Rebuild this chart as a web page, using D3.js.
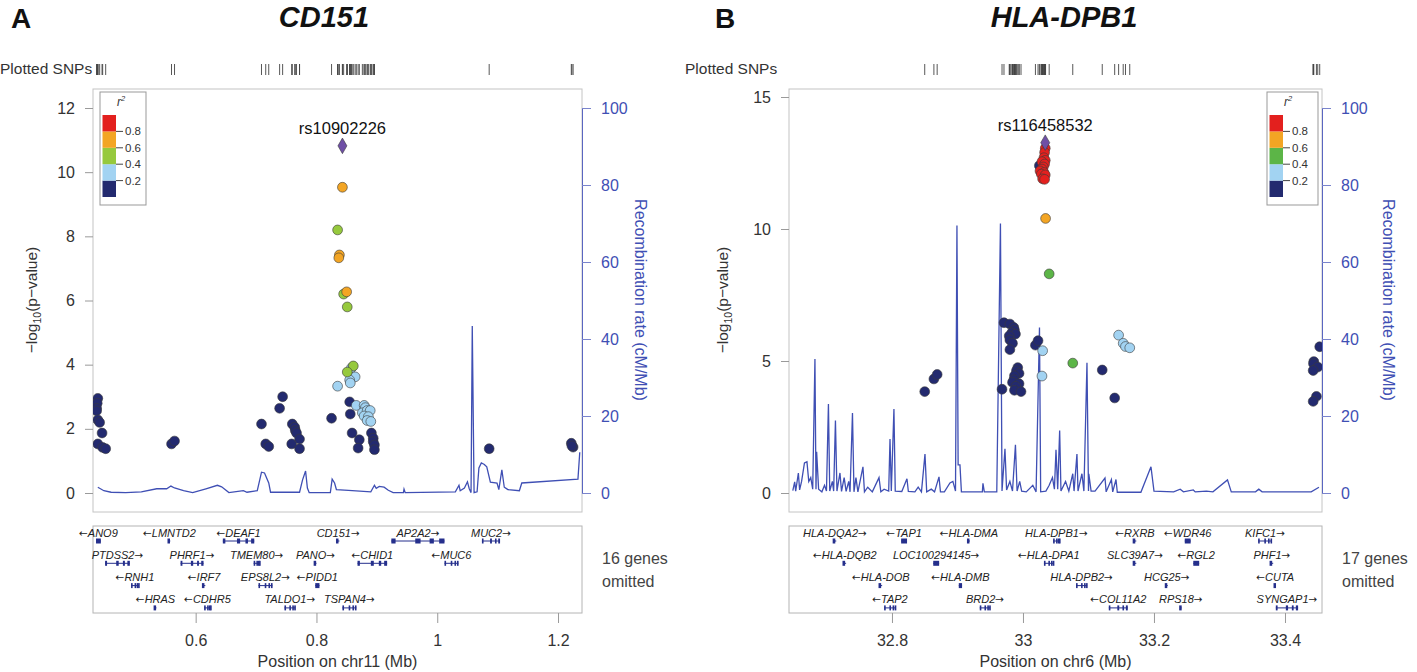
<!DOCTYPE html>
<html>
<head>
<meta charset="utf-8">
<script src="https://cdn.jsdelivr.net/npm/d3@7"></script>
<style>
  body { margin: 0; background: #fff; }
  text { font-family: "Liberation Sans", Arial, Helvetica, sans-serif; }
</style>
</head>
<body>
<svg id="chart" width="1417" height="672"></svg>
<script>
// ---- data ----
const r2Breaks = [0.2, 0.4, 0.6, 0.8];
const r2ColorsA = ["#232a6f", "#a2d3f2", "#96c93d", "#f3a524", "#e3201e"];
const r2ColorsB = ["#232a6f", "#a2d3f2", "#5cb547", "#f3a524", "#e3201e"];

const yTicksA = [0, 2, 4, 6, 8, 10, 12];
const yTicksB = [0, 5, 10, 15];
const recTicks = [0, 20, 40, 60, 80, 100];
const xTicksA = [0.6, 0.8, 1, 1.2];
const xTicksB = [32.8, 33, 33.2, 33.4];

// [position Mb, -log10 p, r2]
const leadA = [0.843, 10.82, "rs10902226"];
const snpsA = [
  [0.843, 9.53, 0.7], [0.835, 8.2, 0.5], [0.838, 7.42, 0.7], [0.837, 7.33, 0.7],
  [0.845, 6.2, 0.5], [0.850, 6.27, 0.7], [0.851, 5.8, 0.5],
  [0.858, 3.9, 0.3], [0.861, 3.96, 0.5], [0.851, 3.77, 0.5], [0.864, 3.62, 0.3],
  [0.855, 3.52, 0.3], [0.856, 3.43, 0.3], [0.835, 3.33, 0.3],
  [0.855, 2.84, 0.1], [0.856, 2.46, 0.1], [0.859, 1.87, 0.1], [0.871, 1.66, 0.1], [0.869, 1.40, 0.1],
  [0.866, 2.73, 0.3], [0.879, 2.73, 0.3], [0.881, 2.66, 0.3], [0.876, 2.50, 0.3], [0.884, 2.57, 0.3],
  [0.889, 2.57, 0.3], [0.879, 2.40, 0.3], [0.886, 2.38, 0.3], [0.884, 2.26, 0.3], [0.890, 2.23, 0.3],
  [0.891, 1.87, 0.1], [0.894, 1.71, 0.1], [0.894, 1.60, 0.1], [0.896, 1.50, 0.1], [0.896, 1.35, 0.1],
  [0.825, 2.33, 0.1], [0.744, 3.00, 0.1], [0.739, 2.64, 0.1], [0.709, 2.15, 0.1], [0.716, 1.53, 0.1],
  [0.721, 1.45, 0.1], [0.760, 2.15, 0.1], [0.764, 2.05, 0.1], [0.765, 1.95, 0.1], [0.767, 1.87, 0.1],
  [0.759, 1.53, 0.1], [0.772, 1.68, 0.1], [0.772, 1.38, 0.1], [0.560, 1.53, 0.1], [0.565, 1.62, 0.1],
  [0.438, 2.95, 0.1], [0.437, 2.80, 0.1], [0.436, 2.64, 0.1], [0.436, 2.56, 0.1], [0.438, 2.28, 0.1],
  [0.441, 2.20, 0.1], [0.445, 1.87, 0.1], [0.438, 1.53, 0.1], [0.446, 1.42, 0.1], [0.451, 1.38, 0.1],
  [1.086, 1.38, 0.1], [1.222, 1.55, 0.1], [1.225, 1.43, 0.1], [1.223, 1.47, 0.1]
];

const leadB = [33.034, 13.27, "rs116458532"];
const snpsB = [
  [33.025, 12.4, 0.1],
  [33.034, 13.06, 0.9], [33.033, 12.9, 0.9], [33.032, 12.7, 0.9], [33.034, 12.6, 0.9],
  [33.029, 12.55, 0.9], [33.033, 12.46, 0.9], [33.031, 12.35, 0.9], [33.029, 12.27, 0.9],
  [33.026, 12.2, 0.9], [33.032, 12.14, 0.9], [33.028, 12.08, 0.9], [33.034, 12.05, 0.9],
  [33.030, 11.9, 0.9], [33.033, 11.88, 0.9],
  [33.0345, 10.4, 0.7], [33.040, 8.3, 0.5],
  [32.971, 6.45, 0.1], [32.980, 6.40, 0.1], [32.986, 6.27, 0.1], [32.987, 6.17, 0.1], [32.983, 6.07, 0.1],
  [32.9885, 6.02, 0.1], [32.979, 5.95, 0.1], [32.980, 5.80, 0.1], [32.984, 5.67, 0.1], [32.980, 5.43, 0.1],
  [32.968, 3.93, 0.1], [32.992, 4.75, 0.1], [32.990, 4.63, 0.1], [32.994, 4.53, 0.1], [32.987, 4.44, 0.1],
  [32.986, 4.29, 0.1], [32.984, 4.19, 0.1], [32.994, 4.14, 0.1], [32.989, 4.04, 0.1], [32.987, 3.89, 0.1],
  [32.997, 3.84, 0.1], [33.019, 5.60, 0.1], [33.023, 5.77, 0.1],
  [33.030, 5.39, 0.3], [33.029, 4.43, 0.3], [33.076, 4.92, 0.5],
  [33.121, 4.66, 0.1], [33.140, 3.60, 0.1],
  [33.146, 5.98, 0.3], [33.153, 5.67, 0.3], [33.1565, 5.55, 0.3], [33.163, 5.50, 0.3],
  [32.850, 3.84, 0.1], [32.864, 4.32, 0.1], [32.869, 4.49, 0.1],
  [33.453, 5.54, 0.1], [33.444, 4.98, 0.1], [33.4435, 4.90, 0.1], [33.450, 4.77, 0.1],
  [33.443, 4.64, 0.1], [33.448, 3.66, 0.1], [33.443, 3.47, 0.1]
];

// [position Mb, recombination rate cM/Mb]
const recombA = [
  [0.438, 1.5], [0.448, 0.6], [0.460, 0.2], [0.484, 0.1], [0.510, 0.3], [0.5355, 1.1], [0.552, 1.1],
  [0.559, 1.8], [0.565, 1.3], [0.580, 0.6], [0.595, 0.1], [0.617, 1.1], [0.636, 2.0], [0.643, 1.6],
  [0.655, 0.1], [0.679, 0.6], [0.685, 0.2], [0.702, 0.6], [0.709, 5.4], [0.714, 5.2], [0.721, 2.6],
  [0.724, 0.2], [0.772, 0.2], [0.777, 3.4], [0.782, 5.7], [0.785, 1.3], [0.788, 0.1], [0.823, 0.1],
  [0.826, 3.6], [0.830, 2.6], [0.833, 0.9], [0.853, 0.7], [0.890, 0.3], [0.896, 2.0], [0.899, 1.2],
  [0.904, 1.7], [0.912, 1.5], [0.919, 0.7], [0.927, 0.1], [0.944, 0.1], [0.945, 1.0], [0.947, 0.1],
  [1.030, 0.3], [1.036, 2.0], [1.038, 0.6], [1.045, 1.3], [1.050, 2.9], [1.053, 1.1], [1.056, 0.1],
  [1.058, 43.4], [1.061, 0.1], [1.066, 0.3], [1.069, 6.5], [1.073, 7.8], [1.078, 7.4], [1.082, 6.8],
  [1.088, 2.8], [1.099, 2.6], [1.102, 0.9], [1.107, 6.0], [1.111, 1.5], [1.114, 1.2], [1.117, 0.9],
  [1.136, 0.6], [1.140, 2.6], [1.233, 3.6], [1.236, 10.6]
];

const recombB = [
  [32.6486, 0.6], [32.6515, 2.9], [32.653, 0.5], [32.6571, 5.2], [32.659, 0.8], [32.662, 3.0],
  [32.6664, 7.8], [32.6702, 8.1], [32.673, 3.0], [32.676, 4.0], [32.679, 1.0], [32.6824, 34.8],
  [32.684, 1.0], [32.685, 10.7], [32.688, 1.0], [32.693, 0.3], [32.697, 2.0], [32.700, 0.5],
  [32.703, 23.1], [32.705, 0.5], [32.709, 3.0], [32.711, 0.5], [32.7137, 18.8], [32.716, 0.5],
  [32.7206, 5.2], [32.723, 0.4], [32.727, 4.0], [32.730, 0.4], [32.734, 3.0], [32.736, 0.3],
  [32.7397, 20.8], [32.742, 0.3], [32.745, 4.0], [32.748, 0.3], [32.7557, 6.8], [32.758, 0.3],
  [32.763, 1.5], [32.770, 0.3], [32.7802, 4.0], [32.783, 0.3], [32.788, 1.0], [32.795, 0.5],
  [32.797, 14.0], [32.799, 0.5], [32.803, 21.8], [32.805, 0.5], [32.815, 0.4], [32.8229, 3.7],
  [32.825, 0.4], [32.835, 0.3], [32.840, 1.5], [32.845, 0.3], [32.8504, 10.1], [32.853, 0.3],
  [32.860, 1.0], [32.865, 0.3], [32.8718, 4.2], [32.874, 0.3], [32.880, 0.3], [32.8885, 2.6],
  [32.893, 3.0], [32.897, 0.5], [32.8992, 69.5], [32.901, 7.3], [32.9038, 7.3], [32.906, 0.3],
  [32.938, 0.3], [32.9389, 2.5], [32.941, 0.3], [32.960, 0.3], [32.9656, 70.0], [32.968, 0.5],
  [32.9725, 11.5], [32.975, 0.8], [32.980, 3.0], [32.984, 0.5], [32.9885, 12.5], [32.991, 0.5],
  [32.995, 3.0], [32.998, 0.5], [33.005, 0.3], [33.015, 2.0], [33.020, 0.3], [33.0252, 43.0],
  [33.027, 0.3], [33.035, 0.5], [33.040, 2.0], [33.045, 4.0], [33.048, 1.0], [33.0504, 11.2],
  [33.053, 1.0], [33.056, 16.2], [33.058, 0.5], [33.065, 3.0], [33.070, 0.5], [33.076, 5.0],
  [33.078, 0.5], [33.0824, 10.1], [33.084, 0.5], [33.090, 5.0], [33.093, 0.5], [33.0977, 33.8],
  [33.100, 0.5], [33.1005, 5.0], [33.104, 0.5], [33.110, 0.5], [33.1252, 3.9], [33.127, 0.3],
  [33.135, 3.5], [33.137, 0.3], [33.142, 3.5], [33.144, 0.2], [33.180, 0.2], [33.1954, 6.8],
  [33.200, 0.5], [33.230, 0.3], [33.240, 1.0], [33.245, 0.3], [33.260, 0.8], [33.263, 0.3],
  [33.280, 0.5], [33.290, 0.3], [33.3122, 3.4], [33.318, 0.3], [33.355, 0.3], [33.360, 1.0],
  [33.365, 0.3], [33.440, 0.3], [33.4519, 1.5]
];

// [gene, start Mb, end Mb, row, strand]
const genesA = [
  ["ANO9", 0.435, 0.443, 0, "-"], ["LMNTD2", 0.555, 0.558, 0, "-"], ["DEAF1", 0.645, 0.697, 0, "-"],
  ["CD151", 0.834, 0.838, 0, "+"], ["AP2A2", 0.924, 1.012, 0, "+"], ["MUC2", 1.074, 1.104, 0, "+"],
  ["PTDSS2", 0.450, 0.491, 1, "+"], ["PHRF1", 0.575, 0.613, 1, "+"], ["TMEM80", 0.696, 0.706, 1, "+"],
  ["PANO", 0.797, 0.800, 1, "+"], ["CHID1", 0.868, 0.917, 1, "-"], ["MUC6", 1.012, 1.035, 1, "-"],
  ["RNH1", 0.493, 0.506, 2, "-"], ["IRF7", 0.612, 0.616, 2, "-"], ["EPS8L2", 0.704, 0.727, 2, "+"],
  ["PIDD1", 0.798, 0.805, 2, "-"],
  ["HRAS", 0.532, 0.535, 3, "-"], ["CDHR5", 0.614, 0.625, 3, "-"], ["TALDO1", 0.747, 0.765, 3, "+"],
  ["TSPAN4", 0.843, 0.866, 3, "+"]
];
const genesB = [
  ["HLA-DQA2", 32.711, 32.715, 0, "+"], ["TAP1", 32.814, 32.823, 0, "-"], ["HLA-DMA", 32.916, 32.919, 0, "-"],
  ["HLA-DPB1", 33.046, 33.056, 0, "+"], ["RXRB", 33.169, 33.173, 0, "-"], ["WDR46", 33.247, 33.256, 0, "-"],
  ["KIFC1", 33.359, 33.380, 0, "+"],
  ["HLA-DQB2", 32.726, 32.730, 1, "-"], ["LOC100294145", 32.863, 32.872, 1, "+"], ["HLA-DPA1", 33.032, 33.047, 1, "-"],
  ["SLC39A7", 33.169, 33.173, 1, "+"], ["RGL2", 33.260, 33.269, 1, "-"], ["PHF1", 33.378, 33.382, 1, "+"],
  ["HLA-DOB", 32.781, 32.785, 2, "-"], ["HLA-DMB", 32.902, 32.907, 2, "-"], ["HLA-DPB2", 33.081, 33.098, 2, "+"],
  ["HCG25", 33.218, 33.221, 2, "+"], ["CUTA", 33.384, 33.386, 2, "-"],
  ["TAP2", 32.788, 32.806, 3, "-"], ["BRD2", 32.934, 32.950, 3, "+"], ["COL11A2", 33.131, 33.160, 3, "-"],
  ["RPS18", 33.240, 33.242, 3, "+"], ["SYNGAP1", 33.386, 33.420, 3, "+"]
];

// ---- drawing ----
const svg = d3.select("#chart");
const BLUE = "#3f4fb4";
const GRAY = "#9a9a9a";
const TEXT = "#333";

function drawPanel(o) {
  const g = svg.append("g");
  const x = d3.scaleLinear().domain(o.xDomain).range([o.left, o.right]);
  const y = d3.scaleLinear().domain([0, o.yMax]).range([493, o.yTopPx]);
  const rec = d3.scaleLinear().domain([0, 100]).range([493, 108]);
  const plotTop = 89, plotBottom = 512, geneTop = 526, geneBottom = 613;

  // panel letter and title
  g.append("text").attr("x", o.letterX).attr("y", 28).text(o.letter)
    .style("font-size", "28px").style("font-weight", "bold").attr("fill", "#111");
  g.append("text").attr("x", o.titleX).attr("y", 27).attr("text-anchor", "middle").text(o.title)
    .style("font-size", "29px").style("font-weight", "bold").style("font-style", "italic").attr("fill", "#111");

  // plotted SNPs rug
  g.append("text").attr("x", o.rugLabelX).attr("y", 74).text("Plotted SNPs")
    .style("font-size", "15.5px").attr("fill", TEXT);
  g.append("g").selectAll("line").data(o.snps.concat([o.lead])).join("line")
    .attr("x1", d => x(d[0])).attr("x2", d => x(d[0]))
    .attr("y1", 64).attr("y2", 75).attr("stroke", "#444").attr("stroke-width", 0.9);

  // plot frame
  const clipId = "clip" + o.letter;
  g.append("clipPath").attr("id", clipId).append("rect")
    .attr("x", o.left).attr("y", plotTop).attr("width", o.right - o.left).attr("height", plotBottom - plotTop);
  g.append("rect").attr("x", o.left).attr("y", plotTop).attr("width", o.right - o.left)
    .attr("height", plotBottom - plotTop).attr("fill", "none").attr("stroke", "#c4c4c4");

  // left axis
  g.append("g").attr("transform", `translate(${o.left},0)`)
    .call(d3.axisLeft(y).tickValues(o.yTicks).tickSize(8).tickPadding(10).tickFormat(d => String(d)))
    .call(a => a.select(".domain").remove())
    .call(a => a.selectAll("line").attr("stroke", GRAY))
    .call(a => a.selectAll("text").attr("fill", TEXT).style("font-size", "16px"));

  // right axis (recombination)
  g.append("g").attr("transform", `translate(${o.right},0)`)
    .call(d3.axisRight(rec).tickValues(recTicks).tickSize(9).tickSizeOuter(0).tickPadding(10))
    .call(a => a.select(".domain").attr("stroke", "#5a66c0"))
    .call(a => a.selectAll("line").attr("stroke", "#7a84cc"))
    .call(a => a.selectAll("text").attr("fill", BLUE).style("font-size", "16px"));

  // axis titles
  const ylab = g.append("text").attr("transform", `translate(${o.yLabelX},300) rotate(-90)`)
    .attr("text-anchor", "middle").attr("fill", TEXT).style("font-size", "15.5px");
  ylab.append("tspan").text("\u2212log");
  ylab.append("tspan").text("10").style("font-size", "10.5px").attr("dy", 4);
  ylab.append("tspan").text("(p\u2212value)").attr("dy", -4);
  g.append("text").attr("transform", `translate(${o.recLabelX},300) rotate(90)`)
    .attr("text-anchor", "middle").attr("fill", BLUE).style("font-size", "16px")
    .text("Recombination rate (cM/Mb)");

  // recombination line
  g.append("path").datum(o.recomb).attr("clip-path", `url(#${clipId})`)
    .attr("d", d3.line().x(d => x(d[0])).y(d => rec(d[1])))
    .attr("fill", "none").attr("stroke", BLUE).attr("stroke-width", 1.3);

  // SNPs, low r2 first
  const colorOf = d => o.colors[d3.bisect(r2Breaks, d[2])];
  const ordered = o.snps.slice().sort((a, b) => a[2] - b[2]);
  g.append("g").attr("clip-path", `url(#${clipId})`).selectAll("circle").data(ordered).join("circle")
    .attr("cx", d => x(d[0])).attr("cy", d => y(d[1])).attr("r", 4.9)
    .attr("fill", colorOf).attr("stroke", "#3a3a3a").attr("stroke-width", 0.6);

  // lead SNP
  g.append("path").attr("d", d3.symbol(d3.symbolDiamond, 70)())
    .attr("transform", `translate(${x(o.lead[0])},${y(o.lead[1])})`)
    .attr("fill", "#6f4fa6").attr("stroke", "#3a3a3a").attr("stroke-width", 0.6);
  g.append("text").attr("x", x(o.lead[0])).attr("y", y(o.lead[1]) - 12).attr("text-anchor", "middle")
    .text(o.lead[2]).style("font-size", "16.5px").attr("fill", "#111");

  // r2 legend
  const lg = g.append("g");
  const ly = d3.scaleLinear().domain([0, 1]).range([197, 115]);
  lg.append("rect").attr("x", o.legendX).attr("y", 92).attr("width", o.legendW).attr("height", 113)
    .attr("fill", "#fff").attr("stroke", "#999");
  const bins = [0].concat(r2Breaks);
  lg.selectAll("rect.bin").data(bins).join("rect").attr("class", "bin")
    .attr("x", o.legendX + 2.5).attr("width", 13.5)
    .attr("y", d => ly(d + 0.2)).attr("height", d => ly(d) - ly(d + 0.2))
    .attr("fill", (d, i) => o.colors[i]);
  lg.selectAll("line").data(r2Breaks).join("line")
    .attr("x1", o.legendX + 16).attr("x2", o.legendX + 23)
    .attr("y1", d => ly(d)).attr("y2", d => ly(d)).attr("stroke", "#444");
  lg.selectAll("text.tk").data(r2Breaks).join("text").attr("class", "tk")
    .attr("x", o.legendX + 25).attr("y", d => ly(d) + 4).text(d => d.toFixed(1))
    .style("font-size", "11.5px").attr("fill", TEXT);
  const rt = lg.append("text").attr("x", o.legendX + 21).attr("y", 106).attr("text-anchor", "middle")
    .style("font-size", "12px").style("font-style", "italic").attr("fill", TEXT);
  rt.append("tspan").text("r");
  rt.append("tspan").text("2").style("font-size", "7.5px").attr("dy", -5);

  // gene track
  g.append("rect").attr("x", o.left).attr("y", geneTop).attr("width", o.right - o.left)
    .attr("height", geneBottom - geneTop).attr("fill", "none").attr("stroke", "#b4b4b4");
  const rowY = r => 541 + r * 22.3;
  const gg = g.append("g").selectAll("g").data(o.genes).join("g");
  gg.append("line")
    .attr("x1", d => x(d[1])).attr("x2", d => x(d[2]))
    .attr("y1", d => rowY(d[3])).attr("y2", d => rowY(d[3]))
    .attr("stroke", "#252f8c").attr("stroke-width", 1);
  gg.each(function (d) {
    const x0 = x(d[1]), x1 = x(d[2]), w = x1 - x0;
    const fr = w < 6 ? [[0, 1]] : [[0, 0.08], [0.45, 0.55], [0.72, 0.8], [0.9, 1]];
    d3.select(this).selectAll("rect").data(fr).join("rect")
      .attr("x", f => x0 + f[0] * w - (w < 3 ? 1 : 0))
      .attr("width", f => Math.max((f[1] - f[0]) * w, w < 3 ? 2.5 : 1.6))
      .attr("y", rowY(d[3]) - 2.5).attr("height", 5).attr("fill", "#252f8c");
  });
  const gl = gg.append("text")
    .attr("x", d => (x(d[1]) + x(d[2])) / 2).attr("y", d => rowY(d[3]) - 4.5)
    .attr("text-anchor", "middle").style("font-size", "11px").style("font-style", "italic")
    .attr("fill", "#222");
  // strand arrows in front of / after the name
  gl.each(function (d) {
    const t = d3.select(this);
    const arrow = s => t.append("tspan").text(s).style("font-family", "DejaVu Sans")
      .style("font-style", "normal").style("font-size", "10.5px");
    if (d[4] === "-") arrow("\u2190");
    t.append("tspan").text(d[0]);
    if (d[4] === "+") arrow("\u2192");
  });

  g.append("text").attr("x", o.right + 20).attr("y", 564).text(o.omitted + " genes")
    .style("font-size", "16px").attr("fill", "#444");
  g.append("text").attr("x", o.right + 20).attr("y", 587).text("omitted")
    .style("font-size", "16px").attr("fill", "#444");

  // x axis
  g.append("g").attr("transform", `translate(0,${geneBottom})`)
    .call(d3.axisBottom(x).tickValues(o.xTicks).tickSize(10).tickPadding(12).tickFormat(d => String(d)))
    .call(a => a.select(".domain").remove())
    .call(a => a.selectAll("line").attr("stroke", GRAY))
    .call(a => a.selectAll("text").attr("fill", TEXT).style("font-size", "16px"));
  g.append("text").attr("x", (o.left + o.right) / 2).attr("y", 667).attr("text-anchor", "middle")
    .text(o.xLabel).style("font-size", "16px").attr("fill", TEXT);
}

drawPanel({
  letter: "A", letterX: 11, title: "CD151", titleX: 324, rugLabelX: 0,
  left: 93, right: 582, xDomain: [0.43, 1.2397], yMax: 12, yTopPx: 108,
  yTicks: yTicksA, xTicks: xTicksA, yLabelX: 37, recLabelX: 635,
  snps: snpsA, lead: leadA, recomb: recombA, genes: genesA, colors: r2ColorsA,
  legendX: 100, legendW: 46, omitted: 16, xLabel: "Position on chr11 (Mb)"
});

drawPanel({
  letter: "B", letterX: 715, title: "HLA-DPB1", titleX: 1064, rugLabelX: 685,
  left: 789, right: 1322, xDomain: [32.6428, 33.4565], yMax: 15, yTopPx: 97,
  yTicks: yTicksB, xTicks: xTicksB, yLabelX: 728, recLabelX: 1383,
  snps: snpsB, lead: leadB, recomb: recombB, genes: genesB, colors: r2ColorsB,
  legendX: 1267, legendW: 51, omitted: 17, xLabel: "Position on chr6 (Mb)"
});
</script>
</body>
</html>
